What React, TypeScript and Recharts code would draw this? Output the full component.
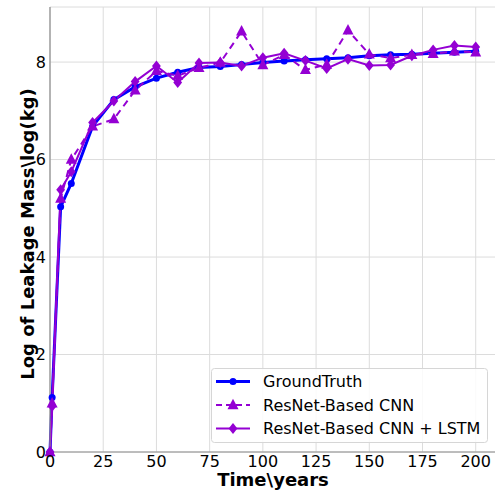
import { LineChart, Line, XAxis, YAxis, CartesianGrid } from 'recharts'

const years = [0, 1, 5, 10, 20, 30, 40, 50, 60, 70, 80, 90, 100, 110, 120, 130, 140, 150, 160, 170, 180, 190, 200]
const groundTruth = [0, 1.12, 5.03, 5.51, 6.68, 7.23, 7.49, 7.67, 7.79, 7.89, 7.91, 7.95, 7.99, 8.02, 8.05, 8.07, 8.09, 8.13, 8.15, 8.16, 8.18, 8.2, 8.22]
const resnetCnn = [0, 1.0, 5.2, 6.0, 6.68, 6.83, 7.42, 7.82, 7.72, 7.88, 7.99, 8.63, 7.94, 8.15, 7.84, 7.95, 8.65, 8.16, 8.08, 8.15, 8.17, 8.22, 8.2]
const resnetLstm = [0, 0.94, 5.38, 5.75, 6.76, 7.2, 7.6, 7.92, 7.58, 7.98, 7.99, 7.92, 8.09, 8.18, 8.03, 7.87, 8.06, 7.93, 7.94, 8.13, 8.25, 8.34, 8.31]
const xTicks = [0, 25, 50, 75, 100, 125, 150, 175, 200]
const yTicks = [0, 2, 4, 6, 8]

const data = years.map((t, i) => ({
  t,
  gt: groundTruth[i],
  cnn: resnetCnn[i],
  lstm: resnetLstm[i]
}))

const BLUE = '#0000ff'
const VIOLET = '#9400d3'
const FONT = '"DejaVu Sans", sans-serif'

function Triangle(props: any) {
  const { cx, cy, index } = props
  if (cx == null || cy == null) return null
  const s = 5.5
  return (
    <path
      key={`tri-${index}`}
      d={`M${cx},${cy - s * 1.15} L${cx + s},${cy + s * 0.75} L${cx - s},${cy + s * 0.75} Z`}
      fill={VIOLET}
    />
  )
}

function Diamond(props: any) {
  const { cx, cy, index } = props
  if (cx == null || cy == null) return null
  const s = 5.5
  return (
    <path
      key={`dia-${index}`}
      d={`M${cx},${cy - s} L${cx + s * 0.8},${cy} L${cx},${cy + s} L${cx - s * 0.8},${cy} Z`}
      fill={VIOLET}
    />
  )
}

function LegendBox() {
  const rows = [
    { label: 'GroundTruth', color: BLUE, dash: undefined, width: 3, marker: 'dot' },
    { label: 'ResNet-Based CNN', color: VIOLET, dash: '6 4', width: 2, marker: 'tri' },
    { label: 'ResNet-Based CNN + LSTM', color: VIOLET, dash: undefined, width: 2, marker: 'dia' }
  ]
  return (
    <svg
      width={278}
      height={76}
      style={{ position: 'absolute', left: 211, top: 368 }}
    >
      <rect x={0.5} y={0.5} width={276} height={74} rx={3} fill="rgba(255,255,255,0.85)" stroke="#d6d6d6" />
      {rows.map((r, i) => {
        const y = 13.5 + i * 23.5
        return (
          <g key={r.label}>
            <line x1={5} x2={39} y1={y} y2={y} stroke={r.color} strokeWidth={r.width} strokeDasharray={r.dash} />
            {r.marker === 'dot' && <circle cx={22} cy={y} r={3.5} fill={r.color} />}
            {r.marker === 'tri' && <Triangle cx={22} cy={y} index={i} />}
            {r.marker === 'dia' && <Diamond cx={22} cy={y} index={i} />}
            <text x={52} y={y} dy="0.36em" fontFamily={FONT} fontSize={16} fill="#000">
              {r.label}
            </text>
          </g>
        )
      })}
    </svg>
  )
}

export default function App() {
  return (
    <div style={{ position: 'absolute', left: 0, top: 0, width: 500, height: 494, background: '#fff' }}>
      <LineChart width={500} height={494} data={data} margin={{ top: 7, right: 3, left: 0, bottom: 0 }}>
        <CartesianGrid stroke="#dcdcdc" strokeWidth={1} />
        <XAxis
          dataKey="t"
          type="number"
          domain={[0, 210]}
          ticks={xTicks}
          height={42}
          tickLine={false}
          tickSize={2}
          tickMargin={2}
          axisLine={{ stroke: '#8c8c8c', strokeWidth: 1.2 }}
          tick={{ fill: '#000', fontSize: 16, fontFamily: FONT }}
          interval={0}
        />
        <YAxis
          type="number"
          domain={[0, 9.13]}
          ticks={yTicks}
          width={50}
          tickLine={false}
          tickSize={2}
          tickMargin={2}
          axisLine={{ stroke: '#8c8c8c', strokeWidth: 1.2 }}
          tick={{ fill: '#000', fontSize: 16, fontFamily: FONT }}
          interval={0}
        />
        <Line
          dataKey="gt"
          stroke={BLUE}
          strokeWidth={3}
          dot={{ r: 3.5, fill: BLUE, stroke: 'none' }}
          isAnimationActive={false}
        />
        <Line
          dataKey="cnn"
          stroke={VIOLET}
          strokeWidth={2}
          strokeDasharray="7 5"
          dot={Triangle}
          isAnimationActive={false}
        />
        <Line
          dataKey="lstm"
          stroke={VIOLET}
          strokeWidth={2}
          dot={Diamond}
          isAnimationActive={false}
        />
        <text x={273} y={486} textAnchor="middle" fontFamily={FONT} fontWeight="bold" fontSize={18} fill="#000">
          Time\years
        </text>
        <text
          x={27}
          y={234}
          textAnchor="middle"
          dominantBaseline="central"
          fontFamily={FONT}
          fontWeight="bold"
          fontSize={18}
          fill="#000"
          transform="rotate(-90 27 234)"
        >
          Log of Leakage Mass\log(kg)
        </text>
      </LineChart>
      <LegendBox />
    </div>
  )
}
